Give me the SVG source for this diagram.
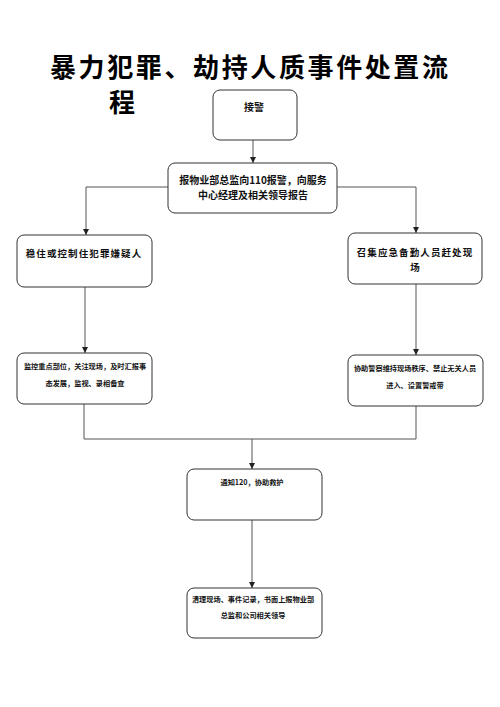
<svg xmlns="http://www.w3.org/2000/svg" width="500" height="707" viewBox="0 0 500 707">
<style>
.box{fill:#fff;stroke:#333;stroke-width:1}
.t{font-family:"Noto Sans CJK SC","Noto Sans",sans-serif;font-weight:bold;fill:#111;text-anchor:middle}
.title{font-family:"Noto Sans CJK SC","Noto Sans",sans-serif;font-weight:bold;fill:#000;font-size:26px}
.c{fill:none;stroke:#555;stroke-width:1}
</style>
<defs>
<marker id="ah" viewBox="0 0 10 10" refX="10" refY="5" markerWidth="6" markerHeight="6" orient="auto" markerUnits="userSpaceOnUse">
<path d="M0,0 L10,5 L0,10 z" fill="#222"/>
</marker>
</defs>
<rect width="500" height="707" fill="#fff"/>
<g id="title">
<text class="title" x="249" y="77" text-anchor="middle" textLength="398" lengthAdjust="spacing">暴力犯罪、劫持人质事件处置流</text>
<text class="title" x="109" y="112">程</text>
</g>
<g id="connectors">
<path class="c" d="M253,140 V163" marker-end="url(#ah)"/>
<path class="c" d="M168,187 H86 V235" marker-end="url(#ah)"/>
<path class="c" d="M337,187 H416 V233" marker-end="url(#ah)"/>
<path class="c" d="M85,287 V353" marker-end="url(#ah)"/>
<path class="c" d="M416,284 V355" marker-end="url(#ah)"/>
<path class="c" d="M84,404 V439 H416 V406"/>
<path class="c" d="M252,439 V469" marker-end="url(#ah)"/>
<path class="c" d="M252,520 V588" marker-end="url(#ah)"/>
</g>
<g id="n1">
<rect class="box" x="213" y="90" width="84" height="50" rx="7"/>
<text class="t" x="254" y="111" font-size="10">接警</text>
</g>
<g id="n2">
<rect class="box" x="168" y="163" width="169" height="50" rx="7"/>
<text class="t" x="253" y="184" font-size="10">报物业部总监向110报警，向服务</text>
<text class="t" x="253" y="199" font-size="10">中心经理及相关领导报告</text>
</g>
<g id="n3">
<rect class="box" x="17" y="235" width="135" height="52" rx="7"/>
<text class="t" x="84" y="257" font-size="9.5" letter-spacing="1.1">稳住或控制住犯罪嫌疑人</text>
</g>
<g id="n4">
<rect class="box" x="348" y="233" width="134" height="51" rx="7"/>
<text class="t" x="415" y="256" font-size="9.5" letter-spacing="1.1">召集应急备勤人员赶处现</text>
<text class="t" x="415" y="271" font-size="9.5">场</text>
</g>
<g id="n5">
<rect class="box" x="17" y="353" width="135" height="51" rx="7"/>
<text class="t" x="85" y="369" font-size="7.2">监控重点部位，关注现场，及时汇报事</text>
<text class="t" x="85" y="386" font-size="7.2">态发展，监视、录相备查</text>
</g>
<g id="n6">
<rect class="box" x="348" y="355" width="135" height="51" rx="7"/>
<text class="t" x="415" y="371" font-size="7.2">协助警察维持现场秩序、禁止无关人员</text>
<text class="t" x="415" y="388" font-size="7.2">进入、设置警戒带</text>
</g>
<g id="n7">
<rect class="box" x="187" y="469" width="135" height="51" rx="7"/>
<text class="t" x="252" y="485" font-size="7.2">通知120，协助救护</text>
</g>
<g id="n8">
<rect class="box" x="187" y="588" width="135" height="50" rx="7"/>
<text class="t" x="253" y="602" font-size="7.2">清理现场、事件记录，书面上报物业部</text>
<text class="t" x="253" y="618" font-size="7.2">总监和公司相关领导</text>
</g>
</svg>
